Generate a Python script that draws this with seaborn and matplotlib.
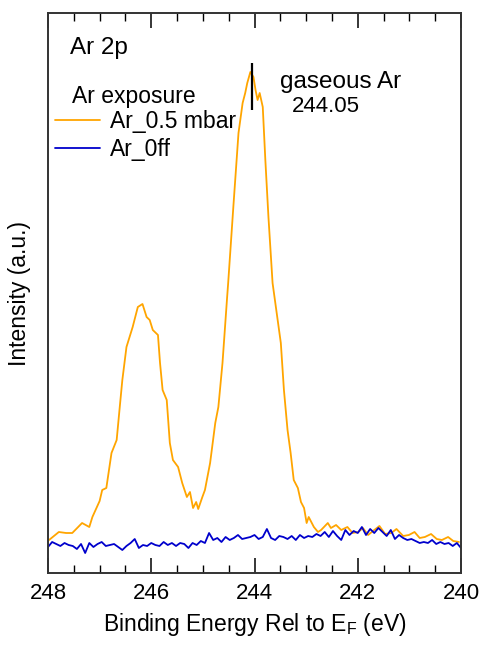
import numpy as np
import pandas as pd
import matplotlib
matplotlib.use("Agg")
import matplotlib.pyplot as plt
import seaborn as sns

# ---- data ----
orange_energy = [247.98, 247.79, 247.65, 247.53, 247.34, 247.20, 247.14, 247.00, 246.95, 246.87,
                 246.77, 246.67, 246.61, 246.56, 246.48, 246.36, 246.26, 246.17, 246.09, 246.03,
                 245.97, 245.87, 245.83, 245.78, 245.70, 245.64, 245.58, 245.48, 245.40, 245.31,
                 245.25, 245.19, 245.13, 245.09, 245.01, 244.96, 244.86, 244.76, 244.70, 244.62,
                 244.53, 244.51, 244.41, 244.31, 244.23, 244.18, 244.14, 244.08, 244.02, 243.98,
                 243.94, 243.90, 243.84, 243.79, 243.73, 243.65, 243.49, 243.43, 243.36, 243.30,
                 243.24, 243.16, 243.10, 243.04, 242.99, 242.95, 242.85, 242.77, 242.71, 242.58,
                 242.52, 242.42, 242.32, 242.20, 242.10, 241.99, 241.90, 241.80, 241.68, 241.58,
                 241.47, 241.35, 241.25, 241.12, 241.01, 240.90, 240.80, 240.70, 240.58, 240.47,
                 240.37, 240.25, 240.15, 240.04]
orange_int = [33, 41, 40, 40, 50, 46, 56, 72, 83, 85,
              120, 133, 166, 193, 226, 246, 266, 269, 256, 253,
              243, 238, 210, 183, 173, 130, 113, 106, 90, 76,
              81, 65, 71, 64, 76, 83, 110, 150, 166, 210,
              276, 290, 366, 440, 470, 480, 490, 501, 496, 483,
              473, 480, 466, 413, 356, 290, 230, 183, 143, 120,
              93, 85, 71, 65, 50, 56, 46, 41, 43, 50,
              45, 48, 43, 46, 40, 41, 45, 38, 43, 47,
              39, 40, 44, 37, 38, 41, 35, 36, 39, 34,
              33, 36, 32, 31]

blue_energy = list(np.round(np.arange(248.0, 239.99, -0.08), 2))
blue_int = [26, 31, 29, 27, 30, 28, 27, 24, 29, 20,
            30, 26, 29, 31, 27, 28, 29, 26, 23, 27,
            30, 34, 25, 28, 27, 30, 28, 27, 31, 28,
            30, 27, 30, 29, 25, 30, 28, 32, 30, 40,
            33, 35, 31, 36, 33, 35, 38, 34, 35, 36,
            38, 34, 36, 44, 35, 33, 37, 36, 34, 37,
            33, 38, 35, 37, 36, 39, 37, 41, 36, 42,
            37, 33, 43, 38, 42, 40, 46, 38, 44, 40,
            45, 41, 37, 43, 34, 38, 35, 33, 34, 32,
            30, 31, 30, 33, 29, 31, 29, 30, 27, 30,
            25]

series_labels = ["Ar_0.5 mbar", "Ar_0ff"]
series_colors = ["#FFA500", "#0000CC"]
xticks = [248, 246, 244, 242, 240]
peak_energy = 244.05

# ---- plotting ----
sns.set_style("ticks")
plt.rcParams["font.family"] = ["Liberation Sans", "DejaVu Sans"]
plt.rcParams["text.color"] = "black"
plt.rcParams["axes.labelcolor"] = "black"
plt.rcParams["xtick.color"] = "black"

W, H = 482, 645
fig = plt.figure(figsize=(W / 100, H / 100), dpi=100)
ax = fig.add_axes([48 / W, 1 - 573 / H, 413 / W, 560 / H])

df_o = pd.DataFrame({"E": orange_energy, "I": orange_int})
df_b = pd.DataFrame({"E": blue_energy, "I": blue_int})
sns.lineplot(data=df_o, x="E", y="I", ax=ax, color=series_colors[0], lw=1.3,
             label=series_labels[0], sort=False, estimator=None)
sns.lineplot(data=df_b, x="E", y="I", ax=ax, color=series_colors[1], lw=1.3,
             label=series_labels[1], sort=False, estimator=None)

ax.vlines(peak_energy, 463, 510, color="black", lw=1.6)

ax.set_xlim(248, 240)
ax.set_ylim(0, 560)
ax.set_xticks(xticks)
ax.set_xticklabels([str(t) for t in xticks])
ax.set_xticks(np.arange(240, 248.01, 0.5), minor=True)
ax.set_yticks([])
ax.tick_params(axis="x", which="major", direction="in", length=11, width=1.1,
               top=True, labelsize=16, pad=7, color="black", labelcolor="black")
ax.tick_params(axis="x", which="minor", direction="in", length=6, width=1.0,
               top=True, color="black")
for s in ax.spines.values():
    s.set_linewidth(1.4)
    s.set_color("#333333")

ax.set_xlabel("Binding Energy Rel to E$_\\mathregular{F}$ (eV)", fontsize=16.5, labelpad=5)
ax.set_ylabel("Intensity (a.u.)", fontsize=16.5, labelpad=12)

fig.text(70 / W, 1 - 48 / H, "Ar 2p", fontsize=17.5, va="center", ha="left")
fig.text(72 / W, 1 - 96 / H, "Ar exposure", fontsize=16.5, va="center", ha="left")
leg = ax.legend(loc="upper left", bbox_to_anchor=(0.018, 0.826), frameon=False, fontsize=16.5,
                handlelength=1.95, handletextpad=0.45, labelspacing=0.22, borderaxespad=0,
                borderpad=0)
for t in leg.get_texts():
    t.set_color("black")

fig.text(280 / W, 1 - 82 / H, "gaseous Ar", fontsize=17.5, va="center", ha="left")
fig.text(292 / W, 1 - 106 / H, "244.05", fontsize=16, va="center", ha="left")

fig.savefig("out.png", dpi=100)
